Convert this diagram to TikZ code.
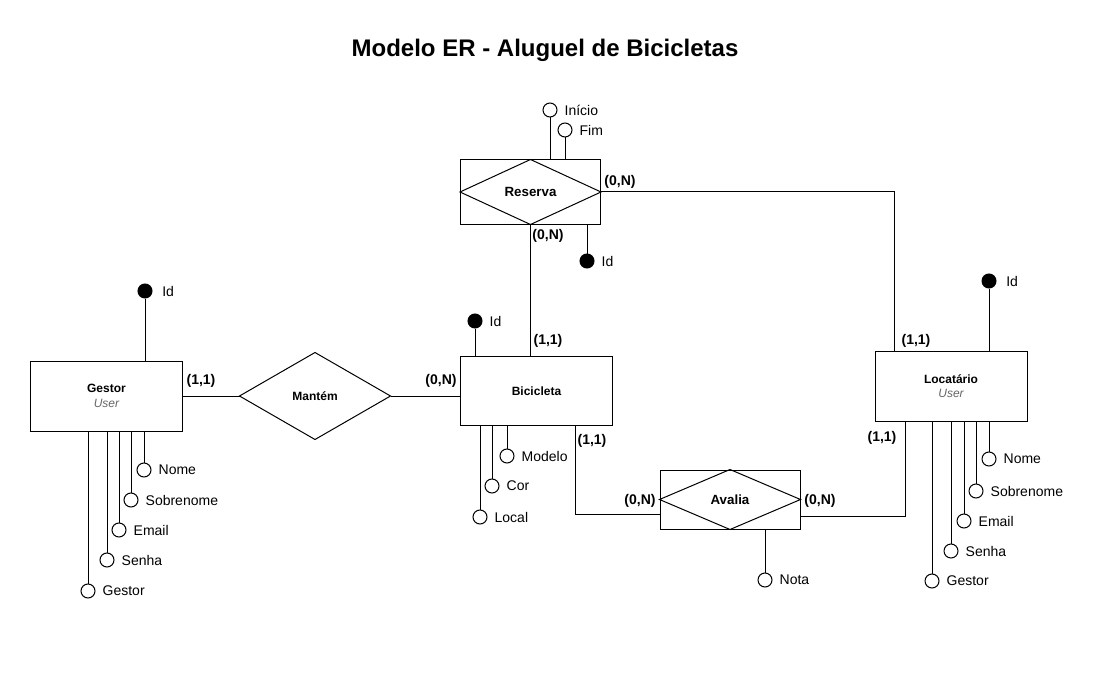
\documentclass[tikz,border=0pt]{standalone}
\usepackage{fontspec}
\setmainfont{Liberation Sans}
\begin{document}
\begin{tikzpicture}[x=0.75pt,y=-0.75pt, line width=0.75pt,
  ent/.style={draw, minimum width=152*0.75pt, minimum height=70*0.75pt, align=center, inner sep=0pt, font=\fontsize{9}{11}\selectfont},
  relbox/.style={minimum width=140*0.75pt, minimum height=63*0.75pt, inner sep=0pt, font=\bfseries\fontsize{10}{12}\selectfont},
  attr/.style={circle, draw, fill=white, minimum size=14*0.75pt, inner sep=0pt},
  keyattr/.style={attr, fill=black},
  atxt/.style={font=\fontsize{10.5}{12}\selectfont, inner sep=0pt, xshift=5pt},
  card/.style={font=\bfseries\fontsize{10.5}{12}\selectfont, inner sep=0pt}
]
\path[use as bounding box] (0,0) rectangle (1103,681);
\node[font=\bfseries\fontsize{18}{22}\selectfont] (title) at (545,50) {Modelo ER - Aluguel de Bicicletas};

% entities
\node[ent] (gestor) at (106.5,396) {\bfseries Gestor\\{\itshape\color{black!60} User}};
\node[ent, minimum height=69*0.75pt] (bici) at (536.5,391) {\bfseries Bicicleta};
\node[ent] (locat) at (951,386) {\bfseries Locatário\\{\itshape\color{black!60} User}};

% relationships
\node[relbox, draw, minimum height=64*0.75pt] (reserva) at (530.5,192) {Reserva};
\draw (reserva.west) -- (reserva.north) -- (reserva.east) -- (reserva.south) -- cycle;
\node[relbox, draw, minimum height=59*0.75pt] (avalia) at (730,499.5) {Avalia};
\draw (avalia.west) -- (avalia.north) -- (avalia.east) -- (avalia.south) -- cycle;
\node[relbox, minimum width=150*0.75pt, minimum height=86*0.75pt, font=\bfseries\fontsize{9}{11}\selectfont] (mantem) at (315,396) {Mantém};
\draw (mantem.west) -- (mantem.north) -- (mantem.east) -- (mantem.south) -- cycle;

% connectors
\draw (gestor.east) -- (mantem.west);
\draw (mantem.east) -- (mantem.east -| bici.west);
\draw (reserva.east) -| ([xshift=15pt]locat.north west);
\draw (reserva.south) -- (reserva.south |- bici.north);
\draw ([xshift=-28.5pt]bici.south east) |- ([yshift=-11.6pt]avalia.west);
\draw ([yshift=-12.4pt]avalia.east) -| ([xshift=23.25pt]locat.south west);

% cardinalities
\node[card] (c1) at (201,381) {(1,1)};
\node[card] (c2) at (441,381) {(0,N)};
\node[card] (c3) at (620,182) {(0,N)};
\node[card] (c4) at (548,236) {(0,N)};
\node[card] (c5) at (548,341) {(1,1)};
\node[card] (c6) at (916,341) {(1,1)};
\node[card] (c7) at (592,441) {(1,1)};
\node[card] (c8) at (640,501) {(0,N)};
\node[card] (c9) at (820,501) {(0,N)};
\node[card] (c10) at (882,438) {(1,1)};

% Gestor attributes
\node[keyattr, label={[atxt, xshift=2pt]right:Id}] (gid) at (145,291) {};
\draw (gid.south) -- (gid.south |- gestor.north);
\foreach \n/\x/\y/\t in {gnome/144/470/Nome, gsob/131/500/Sobrenome, gemail/119/530/Email, gsenha/107/560/Senha, ggest/88/591/Gestor}{
  \node[attr, label={[atxt]right:\t}] (\n) at (\x,\y) {};
  \draw (\n.north) -- (\n.north |- gestor.south);
}

% Locatario attributes
\node[keyattr, label={[atxt, xshift=2pt]right:Id}] (lid) at (989,281) {};
\draw (lid.south) -- (lid.south |- locat.north);
\foreach \n/\x/\y/\t in {lnome/989/459/Nome, lsob/976/491/Sobrenome, lemail/964/521/Email, lsenha/951/551/Senha, lgest/932/581/Gestor}{
  \node[attr, label={[atxt]right:\t}] (\n) at (\x,\y) {};
  \draw (\n.north) -- (\n.north |- locat.south);
}

% Bicicleta attributes
\node[keyattr, label={[atxt]right:Id}] (bid) at (475,321) {};
\draw (bid.south) -- (bid.south |- bici.north);
\foreach \n/\x/\y/\t in {bmod/507/456/Modelo, bcor/492/486/Cor, bloc/480/517/Local}{
  \node[attr, label={[atxt]right:\t}] (\n) at (\x,\y) {};
  \draw (\n.north) -- (\n.north |- bici.south);
}

% Reserva attributes
\node[attr, label={[atxt]right:Início}] (rini) at (550,110) {};
\draw (rini.south) -- (rini.south |- reserva.north);
\node[attr, label={[atxt]right:Fim}] (rfim) at (565,130) {};
\draw (rfim.south) -- (rfim.south |- reserva.north);
\node[keyattr, label={[atxt]right:Id}] (rid) at (587,261) {};
\draw (rid.north) -- (rid.north |- reserva.south);

% Avalia attribute
\node[attr, label={[atxt]right:Nota}] (anota) at (765,580) {};
\draw (anota.north) -- (anota.north |- avalia.south);
\end{tikzpicture}
\end{document}
